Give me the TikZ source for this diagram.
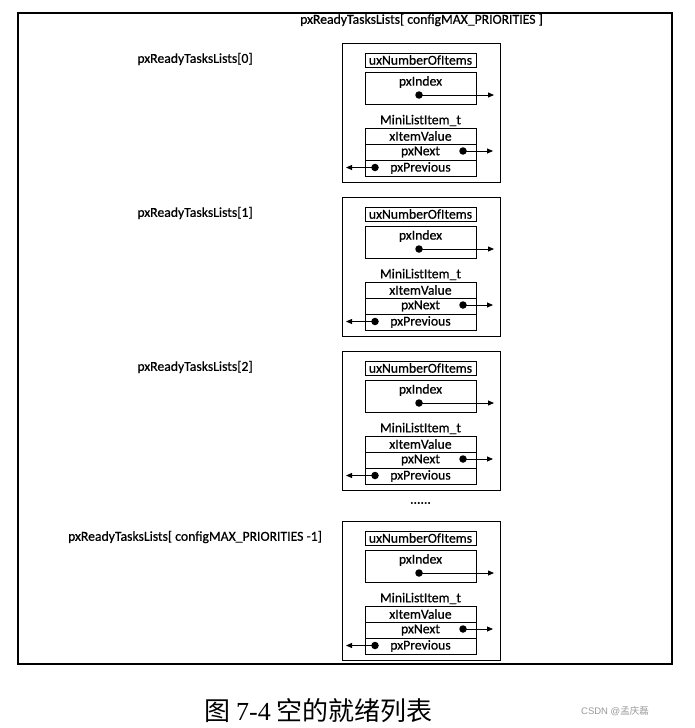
\documentclass[tikz,border=0pt]{standalone}
\usepackage{fontspec}
\setmainfont[FakeBold=0.6]{Carlito}
\newfontfamily\cjkfont{Noto Sans CJK SC}
\newfontfamily\serifnum{Liberation Serif}
\usetikzlibrary{arrows.meta}
\tikzset{
  frame/.style={draw, line width=2pt},
  outerbox/.style={draw, line width=0.8pt, minimum width=158pt, minimum height=139pt, inner sep=0pt},
  cell/.style={draw, line width=0.8pt, minimum width=111pt, inner sep=0pt, font=\fontsize{13.7}{15}\selectfont},
  lbl/.style={font=\fontsize{13.7}{15}\selectfont, inner sep=0pt},
  dotn/.style={circle, fill, inner sep=0pt, minimum size=7.5pt},
  ptr/.style={line width=0.8pt, -{Triangle[length=6pt,width=5pt]}},
}
\begin{document}
\begin{tikzpicture}[x=1pt,y=-1pt]
\useasboundingbox (0,0) rectangle (694,728);
\node[frame, minimum width=654pt, minimum height=651pt, inner sep=0pt] (frame) at (345,338.5) {};
\node[lbl] (title) at (421.5,20) {pxReadyTasksLists[ configMAX\_PRIORITIES ]};
\node[lbl] (l0) at (195,59) {pxReadyTasksLists[0]};
\node[lbl] (l1) at (195,213) {pxReadyTasksLists[1]};
\node[lbl] (l2) at (195,367) {pxReadyTasksLists[2]};
\node[lbl] (l3) at (195,537) {pxReadyTasksLists[ configMAX\_PRIORITIES -1]};
\node[lbl] (dots) at (420.5,503) {......};
\foreach \i/\dy in {0/0,1/154,2/308,3/478}{
  \node[outerbox] (b\i) at (421,112.5+\dy) {};
  \node[cell, minimum height=14pt] (n\i) at (420.5,60+\dy) {uxNumberOfItems};
  \node[cell, minimum height=32pt] (x\i) at (420.5,88+\dy) {};
  \node[lbl] (xt\i) at (420.5,82+\dy) {pxIndex};
  \node[dotn] (xd\i) at (419,95+\dy) {};
  \coordinate (xe\i) at (494,95+\dy);
  \draw[ptr] (xd\i.center) -- (xe\i);
  \node[lbl] (m\i) at (420.5,120.5+\dy) {MiniListItem\_t};
  \node[cell, minimum height=16pt] (v\i) at (420.5,136+\dy) {xItemValue};
  \node[cell, minimum height=16pt] (nx\i) at (420.5,152+\dy) {pxNext};
  \node[cell, minimum height=16pt] (pv\i) at (420.5,168+\dy) {pxPrevious};
  \node[dotn] (nd\i) at (463,151+\dy) {};
  \coordinate (ne\i) at (493,151+\dy);
  \draw[ptr] (nd\i.center) -- (ne\i);
  \node[dotn] (pd\i) at (375,167.5+\dy) {};
  \coordinate (pe\i) at (346,167.5+\dy);
  \draw[ptr] (pd\i.center) -- (pe\i);
}
\node[inner sep=0pt, font=\fontsize{26}{30}\selectfont] (cap) at (318.5,711) {{\cjkfont 图} {\serifnum 7-4} {\cjkfont 空的就绪列表}};
\node[inner sep=0pt, text=black!40, font=\fontsize{9.5}{12}\selectfont] (wm) at (615,711) {{\fontspec{Liberation Sans}CSDN @}{\cjkfont 孟庆磊}};
\end{tikzpicture}
\end{document}
